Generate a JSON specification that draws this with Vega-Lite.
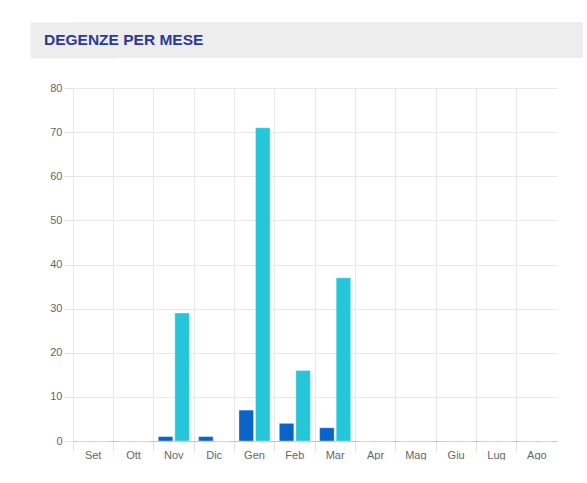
{
  "$schema": "https://vega.github.io/schema/vega-lite/v6.json",
  "background": "#ffffff",
  "padding": {"left": 30, "top": 22, "right": 0, "bottom": 0},
  "spacing": 24,
  "align": "none",
  "center": false,
  "config": {
    "view": {"stroke": null},
    "font": "Liberation Sans",
    "axis": {"labelFont": "Liberation Sans", "labelFontSize": 11, "labelColor": "#666666"}
  },
  "vconcat": [
    {
      "width": 510,
      "height": 36,
      "view": {"fill": "#ededed", "stroke": null},
      "title": {
        "text": "DEGENZE PER MESE",
        "anchor": "start",
        "frame": "group",
        "orient": "top",
        "baseline": "alphabetic",
        "offset": -38,
        "dx": -29,
        "font": "Liberation Sans",
        "fontSize": 15.5,
        "fontWeight": "bold",
        "color": "#2b3a98"
      },
      "data": {"values": []},
      "mark": "rect",
      "encoding": {
        "y": {
          "field": "v",
          "type": "quantitative",
          "scale": {"domain": [0, 1]},
          "axis": {
            "title": null,
            "labels": false,
            "ticks": false,
            "grid": false,
            "domain": true,
            "domainColor": "#ededed",
            "domainWidth": 86,
            "domainCap": "butt",
            "minExtent": 43,
            "maxExtent": 43
          }
        }
      }
    },
    {
      "width": 484,
      "height": 353,
      "data": {
        "values": [
          {"mese": "Set", "serie": "A", "valore": 0},
          {"mese": "Set", "serie": "B", "valore": 0},
          {"mese": "Ott", "serie": "A", "valore": 0},
          {"mese": "Ott", "serie": "B", "valore": 0},
          {"mese": "Nov", "serie": "A", "valore": 1},
          {"mese": "Nov", "serie": "B", "valore": 29},
          {"mese": "Dic", "serie": "A", "valore": 1},
          {"mese": "Dic", "serie": "B", "valore": 0},
          {"mese": "Gen", "serie": "A", "valore": 7},
          {"mese": "Gen", "serie": "B", "valore": 71},
          {"mese": "Feb", "serie": "A", "valore": 4},
          {"mese": "Feb", "serie": "B", "valore": 16},
          {"mese": "Mar", "serie": "A", "valore": 3},
          {"mese": "Mar", "serie": "B", "valore": 37},
          {"mese": "Apr", "serie": "A", "valore": 0},
          {"mese": "Apr", "serie": "B", "valore": 0},
          {"mese": "Mag", "serie": "A", "valore": 0},
          {"mese": "Mag", "serie": "B", "valore": 0},
          {"mese": "Giu", "serie": "A", "valore": 0},
          {"mese": "Giu", "serie": "B", "valore": 0},
          {"mese": "Lug", "serie": "A", "valore": 0},
          {"mese": "Lug", "serie": "B", "valore": 0},
          {"mese": "Ago", "serie": "A", "valore": 0},
          {"mese": "Ago", "serie": "B", "valore": 0}
        ]
      },
      "mark": {"type": "bar", "stroke": "#ffffff", "strokeOpacity": 0.35, "strokeWidth": 1},
      "encoding": {
        "x": {
          "field": "mese",
          "type": "nominal",
          "sort": ["Set", "Ott", "Nov", "Dic", "Gen", "Feb", "Mar", "Apr", "Mag", "Giu", "Lug", "Ago"],
          "scale": {"paddingInner": 0, "paddingOuter": 0},
          "axis": {
            "title": null,
            "labelAngle": 0,
            "grid": true,
            "bandPosition": 0,
            "gridColor": "#e8e8e8",
            "tickColor": "#e2e2e2",
            "tickSize": 10,
            "domainColor": "#c4c4c4",
            "labelPadding": 4,
            "labelBaseline": "middle",
            "labelFlush": false
          }
        },
        "xOffset": {
          "field": "serie",
          "type": "nominal",
          "scale": {"paddingInner": 0.12, "paddingOuter": 0.28}
        },
        "y": {
          "field": "valore",
          "type": "quantitative",
          "scale": {"domain": [0, 80], "nice": false},
          "axis": {
            "title": null,
            "values": [0, 10, 20, 30, 40, 50, 60, 70, 80],
            "grid": true,
            "gridColor": "#e8e8e8",
            "tickColor": "#e2e2e2",
            "tickSize": 9,
            "domain": false,
            "labelPadding": 2,
            "minExtent": 43
          }
        },
        "color": {
          "field": "serie",
          "type": "nominal",
          "scale": {"range": ["#0a64c8", "#26c6da"]},
          "legend": null
        }
      }
    }
  ]
}
